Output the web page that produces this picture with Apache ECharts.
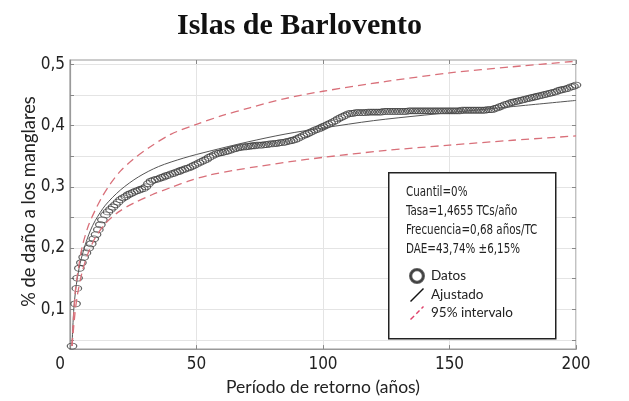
<!DOCTYPE html>
<html>
<head>
<meta charset="utf-8">
<script src="https://cdn.jsdelivr.net/npm/echarts@6/dist/echarts.min.js"></script>
<style>
  html, body { margin: 0; padding: 0; background: #fff; }
  #chart { width: 629px; height: 401px; }
</style>
</head>
<body>
<div id="chart"></div>
<script>
// Return period (years) and observed damage fraction
const dataX = [0.8, 2.2, 2.7, 3.0, 3.7, 4.5, 5.4, 6.3, 7.4, 8.4, 9.4, 10.3, 11.2, 12.0, 12.8,
  14, 15, 16, 17, 18, 19, 20, 21, 22, 23, 24, 25, 26, 27, 28, 29, 30,
  31, 32, 33, 34, 35, 36, 37, 38, 39, 40, 41, 42, 43, 44, 45, 46, 47, 48, 49, 50,
  51, 52, 53, 54, 55, 56, 57, 58, 59, 60, 61, 62, 63, 64, 65, 66, 67, 68, 69, 70,
  71, 72, 73, 74, 75, 76, 77, 78, 79, 80, 81, 82, 83, 84, 85, 86, 87, 88, 89, 90,
  91, 92, 93, 94, 95, 96, 97, 98, 99, 100, 101, 102, 103, 104, 105, 106, 107, 108, 109, 110,
  111, 112, 113, 114, 115, 116, 117, 118, 119, 120, 121, 122, 123, 124, 125, 126, 127, 128, 129, 130,
  131, 132, 133, 134, 135, 136, 137, 138, 139, 140, 141, 142, 143, 144, 145, 146, 147, 148, 149, 150,
  151, 152, 153, 154, 155, 156, 157, 158, 159, 160, 161, 162, 163, 164, 165, 166, 167, 168, 169, 170,
  171, 172, 173, 174, 175, 176, 177, 178, 179, 180, 181, 182, 183, 184, 185, 186, 187, 188, 189, 190,
  191, 192, 193, 194, 195, 196, 197, 198, 199, 200];
const dataY = [0.040, 0.109, 0.134, 0.151, 0.167, 0.176, 0.185, 0.192, 0.200, 0.207, 0.215, 0.222, 0.230, 0.238, 0.246,
  0.254, 0.259, 0.263, 0.267, 0.271, 0.275, 0.279, 0.282, 0.284, 0.287, 0.289, 0.291, 0.293, 0.294, 0.296, 0.297, 0.300,
  0.305, 0.309, 0.311, 0.312, 0.313, 0.315, 0.316, 0.318, 0.319, 0.321, 0.322, 0.324, 0.325, 0.327, 0.328, 0.330, 0.331, 0.333, 0.335, 0.337,
  0.339, 0.341, 0.343, 0.345, 0.348, 0.350, 0.352, 0.354, 0.355, 0.356, 0.357, 0.358, 0.359, 0.361, 0.362, 0.363, 0.364, 0.365, 0.365, 0.366,
  0.366, 0.367, 0.367, 0.368, 0.368, 0.368, 0.369, 0.369, 0.370, 0.370, 0.371, 0.371, 0.372, 0.372, 0.373, 0.374, 0.375, 0.376, 0.377, 0.379,
  0.381, 0.383, 0.385, 0.387, 0.389, 0.391, 0.393, 0.394, 0.396, 0.398, 0.400, 0.402, 0.404, 0.406, 0.408, 0.411, 0.413, 0.415, 0.417, 0.419,
  0.420, 0.420, 0.421, 0.421, 0.421, 0.421, 0.421, 0.422, 0.422, 0.422, 0.422, 0.422, 0.422, 0.423, 0.423, 0.423, 0.423, 0.423, 0.423, 0.423,
  0.423, 0.423, 0.423, 0.424, 0.424, 0.424, 0.424, 0.424, 0.424, 0.424, 0.424, 0.424, 0.424, 0.424, 0.424, 0.424, 0.424, 0.424, 0.424, 0.424,
  0.424, 0.424, 0.424, 0.424, 0.425, 0.425, 0.425, 0.425, 0.425, 0.425, 0.425, 0.425, 0.425, 0.425, 0.426, 0.426, 0.426, 0.428, 0.429, 0.431,
  0.432, 0.434, 0.435, 0.437, 0.438, 0.439, 0.440, 0.441, 0.442, 0.443, 0.444, 0.445, 0.446, 0.447, 0.448, 0.449, 0.450, 0.451, 0.452, 0.453,
  0.454, 0.455, 0.457, 0.458, 0.459, 0.460, 0.461, 0.463, 0.464, 0.466];

// Fitted curve
const fitX = [0.8, 1.5, 2.5, 4, 6, 8, 10, 14, 20, 27, 35, 45, 55, 70, 85, 100, 120, 140, 160, 180, 200];
const fitY = [0.040, 0.100, 0.140, 0.175, 0.205, 0.228, 0.245, 0.270, 0.295, 0.316, 0.333, 0.347, 0.358, 0.373, 0.386, 0.396, 0.408, 0.417, 0.425, 0.433, 0.441];

// 95% confidence band
const upperX = [0.8, 2, 3.4, 5, 7.4, 10, 12.6, 16, 20, 25, 31.6, 40, 50, 60, 71, 85, 100, 125, 150, 175, 200];
const upperY = [0.040, 0.125, 0.169, 0.205, 0.238, 0.262, 0.283, 0.305, 0.326, 0.345, 0.365, 0.386, 0.402, 0.416, 0.429, 0.444, 0.456, 0.472, 0.486, 0.496, 0.505];
const lowerX = [0.8, 2, 3, 4.7, 7, 10, 14, 19.2, 25, 32.4, 40, 47.4, 55, 65, 74, 87, 100, 124, 150, 175, 200];
const lowerY = [0.040, 0.095, 0.125, 0.159, 0.190, 0.217, 0.240, 0.259, 0.273, 0.287, 0.299, 0.310, 0.319, 0.327, 0.333, 0.341, 0.348, 0.359, 0.368, 0.376, 0.383];

// Axis ticks
const yLabelValues = [0.1, 0.2, 0.3, 0.4, 0.5];
const yTickValues = [0.05, 0.1, 0.15, 0.2, 0.25, 0.3, 0.35, 0.4, 0.45, 0.5];

const statLines = ['Cuantil=0%', 'Tasa=1,4655 TCs/año', 'Frecuencia=0,68 años/TC', 'DAE=43,74% ±6,15%'];

const zip = (xs, ys) => xs.map((x, i) => [x, ys[i]]);

const Y_MIN = 0.035, Y_MAX = 0.507;
const labelFont = '"DejaVu Sans Condensed", "Liberation Sans", sans-serif';
const gridColor = '#e4e4e4';
const frameColor = '#9a9a9a';
const tickColor = '#888';
const bandRed = '#d9707a';

const chart = echarts.init(document.getElementById('chart'), null, { renderer: 'canvas' });

const option = {
  animation: false,
  backgroundColor: '#fff',
  title: {
    text: 'Islas de Barlovento',
    left: 172,
    top: 6,
    textStyle: { fontFamily: '"Liberation Serif", "DejaVu Serif", serif', fontWeight: 'bold', fontSize: 30, color: '#111' }
  },
  grid: { left: 70, right: 53, top: 60, bottom: 43, show: true, borderColor: frameColor, borderWidth: 1.2, containLabel: false },
  xAxis: [{
    type: 'value', min: 0, max: 200, interval: 50,
    name: 'Período de retorno (años)', nameLocation: 'middle', nameGap: 17,
    nameTextStyle: { fontFamily: 'Lato, sans-serif', fontSize: 17.5, color: '#222' },
    axisLine: { show: true, onZero: false, lineStyle: { color: frameColor, width: 1.2 } },
    axisTick: { show: true, inside: true, length: 4, lineStyle: { color: tickColor } },
    axisLabel: {
      margin: 7, color: '#222', fontFamily: labelFont, fontSize: 17,
      alignMinLabel: 'right',
      formatter: v => v === 0 ? '{z|0}' : String(v),
      rich: { z: { fontFamily: labelFont, fontSize: 17, color: '#222', padding: [0, 5, 0, 0] } }
    },
    splitLine: { show: true, lineStyle: { color: gridColor, width: 1 } }
  }, {
    type: 'value', min: 0, max: 200, interval: 50, position: 'top',
    axisLine: { show: false, onZero: false },
    axisTick: { show: true, inside: true, length: 4, lineStyle: { color: tickColor } },
    axisLabel: { show: false }, splitLine: { show: false }
  }],
  yAxis: [{
    type: 'value', min: Y_MIN, max: Y_MAX,
    name: '% de daño a los manglares', nameLocation: 'middle', nameGap: 32, nameRotate: 90,
    nameMoveOverlap: false,
    nameTextStyle: { fontFamily: 'Lato, sans-serif', fontSize: 18.3, color: '#222', padding: [0, 0, 0, 6] },
    axisLine: { show: true, onZero: false, lineStyle: { color: frameColor, width: 1.2 } },
    axisTick: { show: true, inside: true, length: 4, customValues: yTickValues, lineStyle: { color: tickColor } },
    axisLabel: {
      margin: 5, color: '#222', fontFamily: labelFont, fontSize: 17,
      customValues: yLabelValues,
      formatter: v => v.toFixed(1).replace('.', ',')
    },
    splitLine: { show: true, lineStyle: { color: gridColor, width: 1 } }
  }, {
    type: 'value', min: Y_MIN, max: Y_MAX, position: 'right',
    axisLine: { show: false, onZero: false },
    axisTick: { show: true, inside: true, length: 4, customValues: yTickValues, lineStyle: { color: tickColor } },
    axisLabel: { show: false }, splitLine: { show: false }
  }],
  legend: {
    orient: 'vertical', left: 404, top: 263, itemGap: 4, itemWidth: 14, itemHeight: 14, z: 20,
    selectedMode: false,
    textStyle: { fontFamily: 'Lato, sans-serif', fontSize: 13.5, color: '#222', padding: [0, 0, 0, 2] },
    data: [
      { name: 'Datos', icon: 'path://M7,2 A5,5 0 1 1 6.99,2 Z M7,2.9 A4.1,4.1 0 1 0 7.01,2.9 Z', itemStyle: { color: '#111' } },
      { name: 'Ajustado', icon: 'path://M0,13 L1,14 L14,1 L13,0 Z', itemStyle: { color: '#111' } },
      { name: '95% intervalo', icon: 'path://M0,13 L1,14 L4.6,10.4 L3.6,9.4 Z M5.8,7.2 L6.8,8.2 L10,5 L9,4 Z M11,2 L12,3 L14,1 L13,0 Z', itemStyle: { color: '#e0406a' } }
    ]
  },
  graphic: [
    {
      type: 'rect', left: 388, top: 172, z: 5,
      shape: { width: 167, height: 166 },
      style: { fill: '#fff', stroke: '#222', lineWidth: 1.5 }
    },
    ...statLines.map((t, i) => ({
      type: 'text', x: 406, y: 185 + i * 19, z: 6, scaleX: 0.85,
      style: { text: t, fill: '#222', font: '13.5px ' + labelFont }
    }))
  ],
  series: [
    {
      name: 'Datos', type: 'scatter', data: zip(dataX, dataY),
      symbol: 'circle', symbolSize: [9.5, 6], z: 2,
      itemStyle: { color: 'rgba(255,255,255,0)', borderColor: '#3a3a3a', borderWidth: 1.0 }
    },
    {
      name: 'Ajustado', type: 'line', data: zip(fitX, fitY), smooth: 0.3,
      showSymbol: false, z: 3,
      lineStyle: { color: '#555', width: 1 }
    },
    {
      name: '95% intervalo', type: 'line', data: zip(upperX, upperY), smooth: 0.3,
      showSymbol: false, z: 4, color: '#e0406a',
      lineStyle: { color: bandRed, width: 1.3, type: [8, 5] }
    },
    {
      name: '95% intervalo', type: 'line', data: zip(lowerX, lowerY), smooth: 0.3,
      showSymbol: false, z: 4, color: '#e0406a',
      lineStyle: { color: bandRed, width: 1.3, type: [8, 5] }
    }
  ]
};

chart.setOption(option);
</script>
</body>
</html>
